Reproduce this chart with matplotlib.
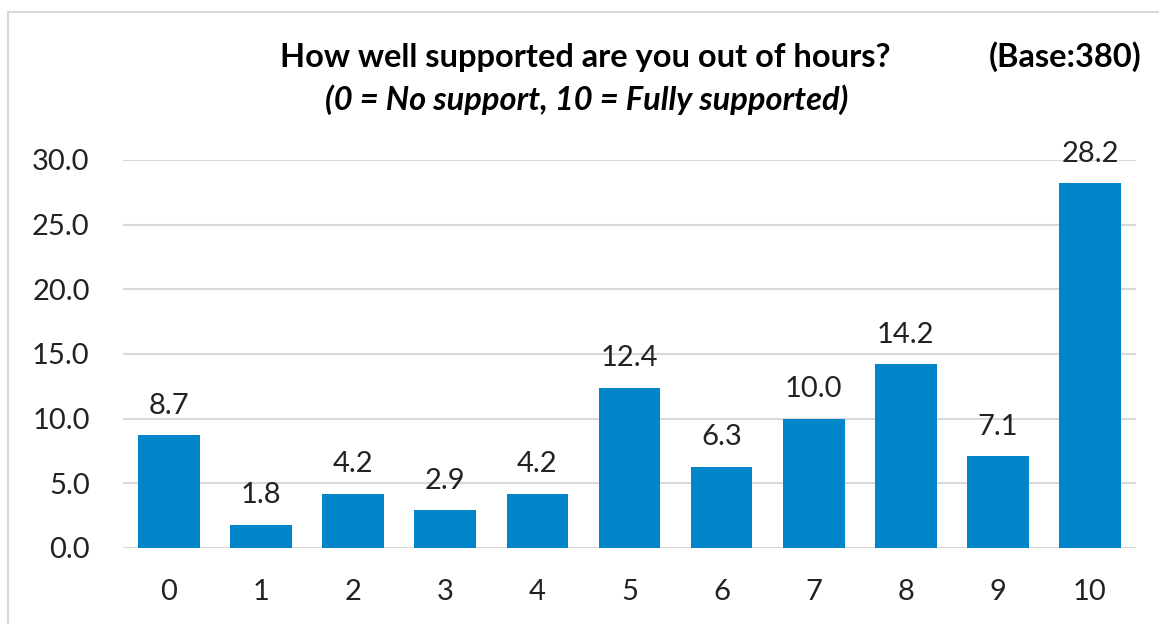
import matplotlib.pyplot as plt
from matplotlib.patches import Rectangle

# survey answers, scale 0..10
scores = ["0", "1", "2", "3", "4", "5", "6", "7", "8", "9", "10"]
percent = [8.7, 1.8, 4.2, 2.9, 4.2, 12.4, 6.3, 10.0, 14.2, 7.1, 28.2]
yticks = [0, 5, 10, 15, 20, 25, 30]

plt.rcParams["font.family"] = ["Lato", "DejaVu Sans"]

fig = plt.figure(figsize=(11.59, 6.24), dpi=100)
ax = fig.add_axes([123 / 1159, 76 / 624, 1013 / 1159, 388 / 624])

x = list(range(len(scores)))
ax.bar(x, percent, width=0.67, color="#0086C9", zorder=3)
for xi, v in zip(x, percent):
    ax.annotate(f"{v:.1f}", (xi, v), xytext=(0, 12), textcoords="offset points",
                ha="center", va="bottom", fontsize=21, color="#222222")

ax.set_xlim(-0.5, 10.5)
ax.set_ylim(0, 30)
ax.set_xticks(x)
ax.set_xticklabels(scores)
ax.set_yticks(yticks)
ax.set_yticklabels([f"{t:.1f}" for t in yticks])
ax.tick_params(axis="both", length=0, labelsize=21, colors="#222222")
ax.tick_params(axis="x", pad=22)
ax.tick_params(axis="y", pad=24)
ax.grid(axis="y", color="#d9d9d9", linewidth=1.5, zorder=0)
for s in ax.spines.values():
    s.set_visible(False)

fig.text(585 / 1159, 1 - 58 / 624, "How well supported are you out of hours?",
         ha="center", va="center", fontsize=23.5, fontweight="bold")
fig.text(587 / 1159, 1 - 100 / 624, "(0 = No support, 10 = Fully supported)",
         ha="center", va="center", fontsize=23.5, fontweight="bold", style="italic")
fig.text(1142 / 1159, 1 - 57 / 624, "(Base:380)",
         ha="right", va="center", fontsize=23.5, fontweight="bold")

# outer frame like the exported chart area
fig.patches.append(Rectangle((8 / 1159, -0.1), 1.2, 1 - 12 / 624 + 0.1,
                             transform=fig.transFigure, fill=False,
                             edgecolor="#d9d9d9", linewidth=1.5))

fig.savefig("out.png", dpi=100)
